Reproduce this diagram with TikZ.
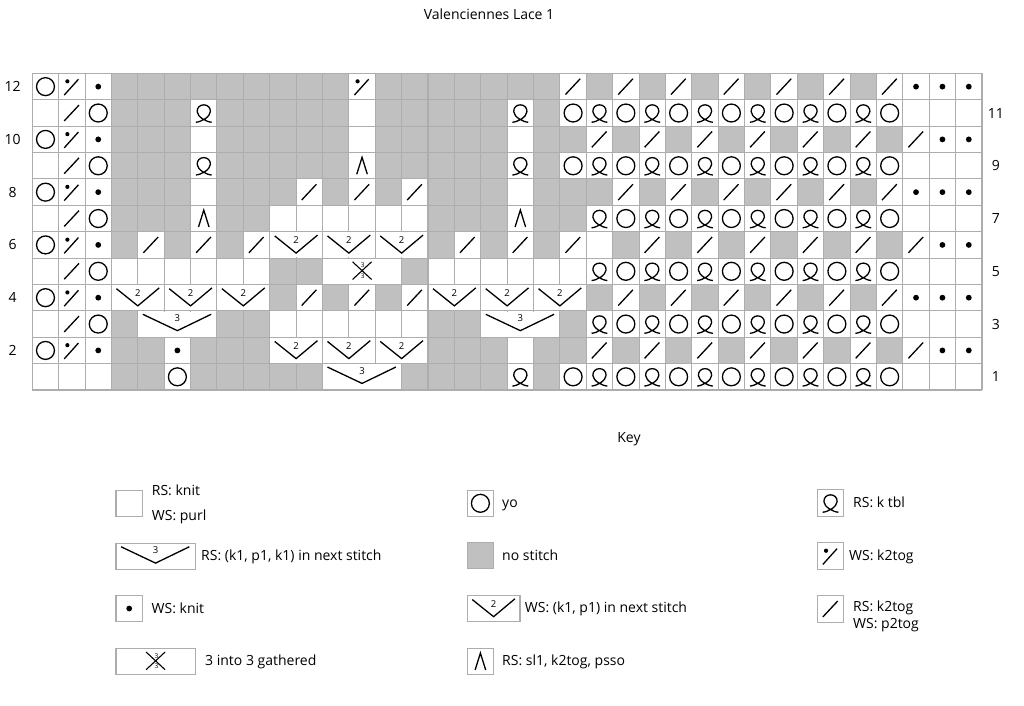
\documentclass[tikz,border=0pt]{standalone}
\usepackage{fontspec}
\setmainfont{Open Sans}
\definecolor{gridc}{HTML}{ADADAD}
\definecolor{nost}{HTML}{C0C0C0}
\newcommand\crow[3]{\foreach \kk [count=\ci] in {#3} {\pic at (\ci-0.5,#2-0.5) {#1\kk};}}
\newcommand\allrows[1]{%
\crow{#1}{12}{o,p,d,g,g,g,g,g,g,g,g,g,p,g,g,g,g,g,g,g,s,g,s,g,s,g,s,g,s,g,s,g,s,d,d,d}%
\crow{#1}{11}{w,s,o,g,g,g,q,g,g,g,g,g,w,g,g,g,g,g,q,g,o,q,o,q,o,q,o,q,o,q,o,q,o,w,w,w}%
\crow{#1}{10}{o,p,d,g,g,g,w,g,g,g,g,g,w,g,g,g,g,g,w,g,g,s,g,s,g,s,g,s,g,s,g,s,g,s,d,d}%
\crow{#1}{9}{w,s,o,g,g,g,q,g,g,g,g,g,l,g,g,g,g,g,q,g,o,q,o,q,o,q,o,q,o,q,o,q,o,w,w,w}%
\crow{#1}{8}{o,p,d,g,g,g,w,g,g,g,s,g,s,g,s,g,g,g,w,g,g,g,s,g,s,g,s,g,s,g,s,g,s,d,d,d}%
\crow{#1}{7}{w,s,o,g,g,g,l,g,g,w,w,w,w,w,w,g,g,g,l,g,g,q,o,q,o,q,o,q,o,q,o,q,o,w,w,w}%
\crow{#1}{6}{o,p,d,g,s,g,s,g,s,v,n,v,n,v,n,g,s,g,s,g,s,w,g,s,g,s,g,s,g,s,g,s,g,s,d,d}%
\crow{#1}{5}{w,s,o,w,w,w,w,w,w,g,g,x,n,n,g,w,w,w,w,w,w,q,o,q,o,q,o,q,o,q,o,q,o,w,w,w}%
\crow{#1}{4}{o,p,d,v,n,v,n,v,n,g,s,g,s,g,s,v,n,v,n,v,n,g,s,g,s,g,s,g,s,g,s,g,s,d,d,d}%
\crow{#1}{3}{w,s,o,g,t,n,n,g,g,w,w,w,w,w,w,g,g,t,n,n,g,q,o,q,o,q,o,q,o,q,o,q,o,w,w,w}%
\crow{#1}{2}{o,p,d,g,g,d,g,g,g,v,n,v,n,v,n,g,g,g,w,g,g,s,g,s,g,s,g,s,g,s,g,s,g,s,d,d}%
\crow{#1}{1}{w,w,w,g,g,o,g,g,g,g,g,t,n,n,g,g,g,g,q,g,o,q,o,q,o,q,o,q,o,q,o,q,o,w,w,w}%
}
\newcommand\legpic[5]{\begin{scope}[shift={(#1pt,-#2pt)},x=26.38pt,y=26.38pt]
  \path[gridln, fill=#3] (-0.5,-0.5) rectangle (#4-0.5,0.5);
  \pic at (0,0) {#5};\end{scope}}
\tikzset{
  gridln/.style={draw=gridc, line width=1.05pt},
  sym/.style={draw=black, line width=1.3pt},
  lab/.style={font=\fontsize{14}{16}\selectfont, inner sep=0pt, text=black},
  small2/.style={font=\fontsize{9.5}{9.5}\selectfont, inner sep=0pt},
  small3/.style={font=\fontsize{6.5}{6.5}\selectfont, inner sep=0pt},
  % pass 1: fills
  fg/.pic={\fill[nost] (-0.5,-0.5) rectangle (0.5,0.5);},
  fw/.pic={}, fo/.pic={}, fd/.pic={}, fs/.pic={}, fp/.pic={}, fl/.pic={},
  fq/.pic={}, fv/.pic={}, ft/.pic={}, fx/.pic={}, fn/.pic={},
  % pass 2: symbols
  kn/.pic={}, kw/.pic={}, kg/.pic={},
  ko/.pic={\draw[sym] (0,0) circle (0.34);},
  kd/.pic={\fill[black] (0,0) circle (0.11);},
  ks/.pic={\draw[sym] (-0.29,-0.3) -- (0.27,0.3);},
  kp/.pic={\draw[sym] (-0.29,-0.32) -- (0.25,0.28);
           \fill[black] (-0.17,0.2) circle (0.08);},
  kl/.pic={\draw[sym] (-0.2,-0.32) -- (0,0.32) -- (0.2,-0.32);},
  kq/.pic={\draw[sym] (-0.3,-0.35) .. controls (-0.1,-0.34) and (0.24,-0.15) .. (0.25,0.05)
             .. controls (0.26,0.21) and (0.14,0.31) .. (0,0.31)
             .. controls (-0.14,0.31) and (-0.26,0.21) .. (-0.25,0.05)
             .. controls (-0.24,-0.15) and (0.1,-0.34) .. (0.3,-0.35);},
  kv/.pic={\fill[white] (-0.475,-0.475) rectangle (1.475,0.475);
           \draw[sym] (-0.31,0.34) -- (0.5,-0.31) -- (1.31,0.37);
           \node[small2] (two) at (0.5,0.17) {2};},
  kt/.pic={\fill[white] (-0.475,-0.475) rectangle (2.475,0.475);
           \draw[sym] (-0.31,0.37) -- (1.0,-0.25) -- (2.28,0.37);
           \node[small2] (three) at (1.0,0.23) {3};},
  kx/.pic={\fill[white] (-0.475,-0.475) rectangle (2.475,0.475);
           \draw[sym, line width=1.1pt] (0.64,0.36) -- (1.36,-0.31);
           \draw[sym, line width=1.1pt] (0.64,-0.31) -- (1.36,0.36);
           \node[small3] (thra) at (1.03,0.22) {3};
           \node[small3] (thrb) at (1.03,-0.17) {3};}
}
\begin{document}
\begin{tikzpicture}[x=1pt,y=-1pt]
\fill[white] (0,0) rectangle (1024,705);
\useasboundingbox (0,0) rectangle (1024,705);
\node[lab, anchor=base] (title) at (489,19) {Valenciennes Lace 1};
\begin{scope}[shift={(32.3pt,-390pt)},x=26.38pt,y=26.38pt]
\allrows{f}
\foreach \i in {0,...,36} {\draw[gridln] (\i,0) -- (\i,12);}
\foreach \j in {0,...,12} {\draw[gridln] (0,\j) -- (36,\j);}
\allrows{k}
\foreach \rn in {2,4,...,12} {\node[lab] (L\rn) at (-0.75,\rn-0.5) {\rn};}
\foreach \rn in {1,3,...,11} {\node[lab] (R\rn) at (36.53,\rn-0.5) {\rn};}
\end{scope}
\node[lab, anchor=base] (key) at (629,442) {Key};
\legpic{129.2}{503.3}{white}{1}{kw}
\legpic{129.2}{556.5}{white}{3}{kt}
\legpic{129.2}{608.5}{white}{1}{kd}
\legpic{129.2}{661.5}{white}{3}{kx}
\legpic{480.4}{503.3}{white}{1}{ko}
\legpic{480.4}{555.5}{nost}{1}{kg}
\legpic{480.4}{608.5}{white}{2}{kv}
\legpic{480.4}{661.5}{white}{1}{kl}
\legpic{830.5}{503}{white}{1}{kq}
\legpic{830.5}{556}{white}{1}{kp}
\legpic{830.5}{609}{white}{1}{ks}
\node[lab, anchor=base west] (t1) at (151.7,495) {RS: knit};
\node[lab, anchor=base west] (t2) at (151.7,520.5) {WS: purl};
\node[lab, anchor=base west] (t3) at (201,560.5) {RS: (k1, p1, k1) in next stitch};
\node[lab, anchor=base west] (t4) at (151.5,613.5) {WS: knit};
\node[lab, anchor=base west] (t5) at (205,665.5) {3 into 3 gathered};
\node[lab, anchor=base west] (t6) at (502,507) {yo};
\node[lab, anchor=base west] (t7) at (502,560) {no stitch};
\node[lab, anchor=base west] (t8) at (524.7,612) {WS: (k1, p1) in next stitch};
\node[lab, anchor=base west] (t9) at (502,665) {RS: sl1, k2tog, psso};
\node[lab, anchor=base west] (t10) at (853,507) {RS: k tbl};
\node[lab, anchor=base west] (t11) at (849,560) {WS: k2tog};
\node[lab, anchor=base west] (t12) at (853,611.5) {RS: k2tog};
\node[lab, anchor=base west] (t13) at (853,628.5) {WS: p2tog};
\end{tikzpicture}
\end{document}
